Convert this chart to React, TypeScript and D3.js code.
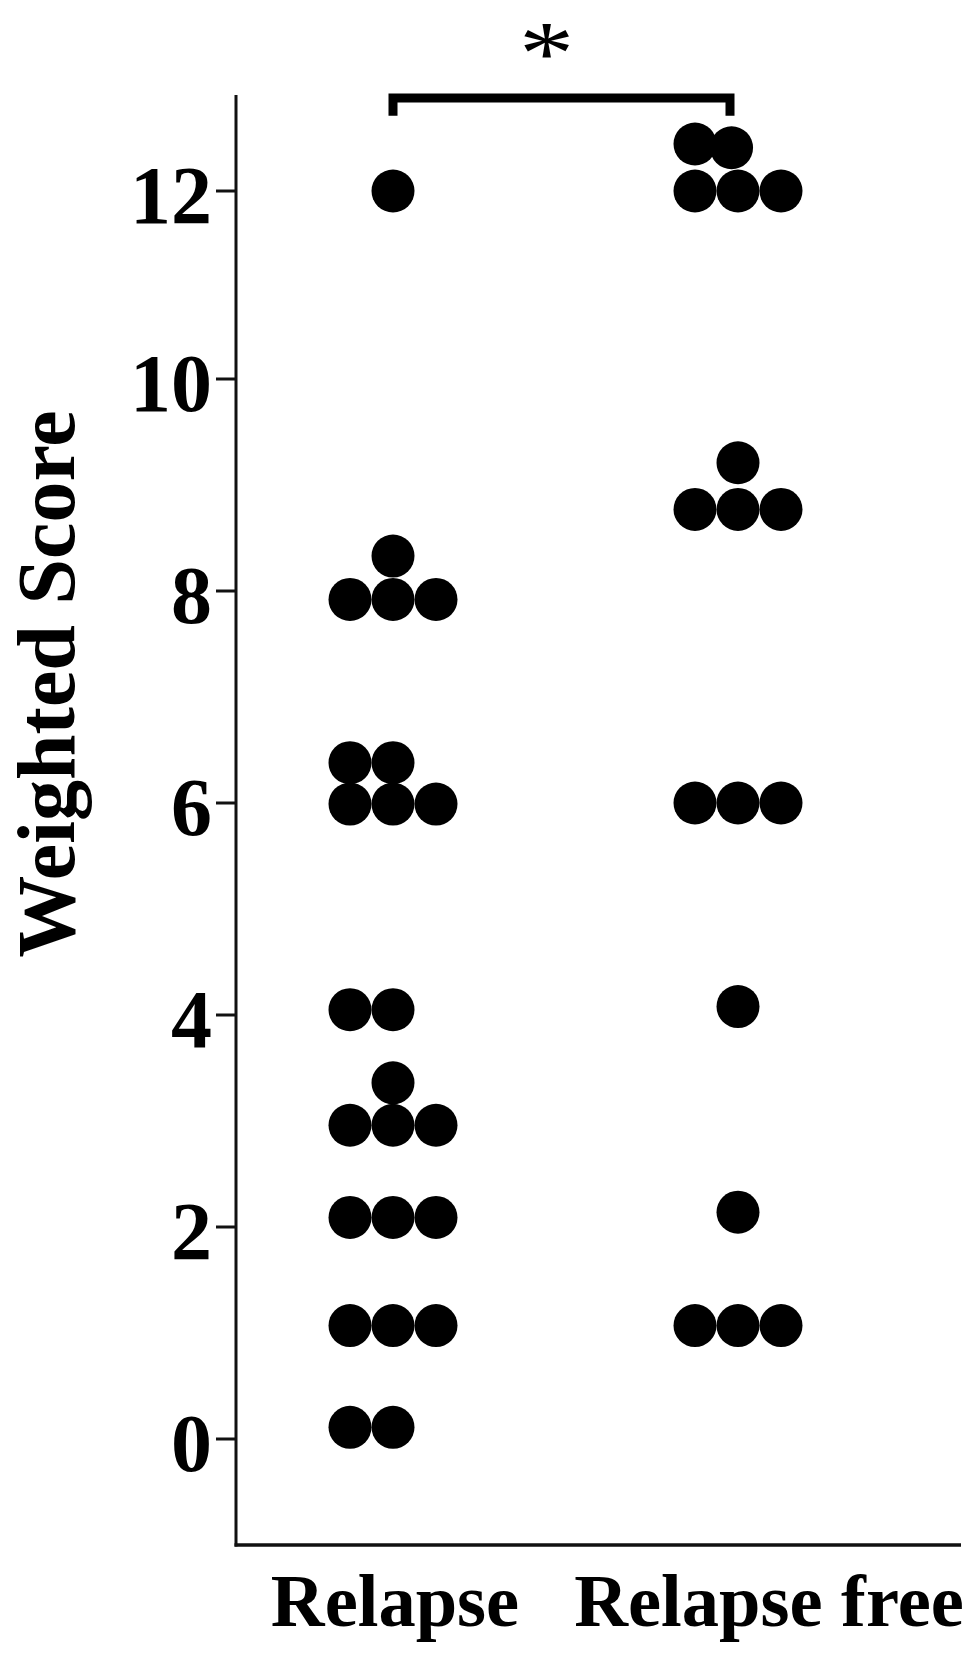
import React from "react";
import * as d3 from "d3";

const categories = ["Relapse", "Relapse free"];
const yTicks = [0, 2, 4, 6, 8, 10, 12];
const yTitle = "Weighted Score";
const sigLabel = "*";

// Relapse group: values and column offsets (in dot widths)
const relapseValues = [12, 8.33, 7.92, 7.92, 7.92, 6.38, 6.38, 5.99, 5.99, 5.99, 4.05, 4.05, 3.36, 2.96, 2.96, 2.96, 2.09, 2.09, 2.09, 1.07, 1.07, 1.07, 0.11, 0.11];
const relapseColumns = [0, 0, -1, 0, 1, -1, 0, -1, 0, 1, -1, 0, 0, -1, 0, 1, -1, 0, 1, -1, 0, 1, -1, 0];

// Relapse free group
const relapseFreeValues = [12.5, 12.46, 12, 12, 12, 9.21, 8.77, 8.77, 8.77, 6, 6, 6, 4.08, 2.14, 1.07, 1.07, 1.07];
const relapseFreeColumns = [-1, -0.15, -1, 0, 1, 0, -1, 0, 1, -1, 0, 1, 0, 0, -1, 0, 1];

const W = 980;
const H = 1656;
const axisX = 236;
const axisTop = 95;
const axisBottom = 1545;
const axisRight = 961;
const dotR = 21.5;
const dotStep = 43;

export default function App() {
  // The source figure's axis is slightly compressed above 10, so use a polylinear scale
  const y = d3.scaleLinear().domain([-1, 0, 10, 12, 13]).range([axisBottom, 1439, 379, 191, 97]);
  const x = d3.scalePoint<string>().domain(categories).range([393, 738]);

  const points = [
    ...relapseValues.map((v, i) => ({ cat: categories[0], v, c: relapseColumns[i] })),
    ...relapseFreeValues.map((v, i) => ({ cat: categories[1], v, c: relapseFreeColumns[i] })),
  ];

  const labelDx = [2, 31];
  const bx1 = x(categories[0])!;
  const bx2 = x(categories[1])! - 8;
  const bTop = y(12.99);
  const bBottom = y(12.8);

  return (
    <svg
      width={W}
      height={H}
      style={{ position: "absolute", left: 0, top: 0, background: "#fff" }}
      fontFamily="'Liberation Serif', 'Times New Roman', serif"
    >
      {/* axes */}
      <line x1={axisX} x2={axisX} y1={axisTop} y2={axisBottom + 1.5} stroke="#111" strokeWidth={3} />
      <line x1={axisX - 1.5} x2={axisRight} y1={axisBottom} y2={axisBottom} stroke="#111" strokeWidth={3.5} />
      {yTicks.map((t) => (
        <g key={t}>
          <line x1={axisX - 20} x2={axisX} y1={y(t)} y2={y(t)} stroke="#111" strokeWidth={3} />
          <text x={axisX - 24} y={y(t) + 32} textAnchor="end" fontSize={82} fontWeight="bold" fill="#000">
            {t}
          </text>
        </g>
      ))}
      {categories.map((c, i) => (
        <text key={c} x={x(c)! + labelDx[i]} y={1626} textAnchor="middle" fontSize={74.5} fontWeight="bold" fill="#000">
          {c}
        </text>
      ))}
      <text
        transform={`translate(74, 684) rotate(-90)`}
        textAnchor="middle"
        fontSize={82}
        fontWeight="bold"
        fill="#000"
      >
        {yTitle}
      </text>

      {/* significance bracket */}
      <path
        d={`M${bx1},${bBottom} L${bx1},${bTop} L${bx2},${bTop} L${bx2},${bBottom}`}
        fill="none"
        stroke="#000"
        strokeWidth={9}
      />
      <text
        transform={`translate(${(bx1 + bx2) / 2 - 15}, 84) scale(1.2, 1)`}
        textAnchor="middle"
        fontSize={92}
        fill="#000"
      >
        {sigLabel}
      </text>

      {/* dots */}
      {points.map((p, i) => (
        <circle key={i} cx={x(p.cat)! + p.c * dotStep} cy={y(p.v)} r={dotR} fill="#000" />
      ))}
    </svg>
  );
}
